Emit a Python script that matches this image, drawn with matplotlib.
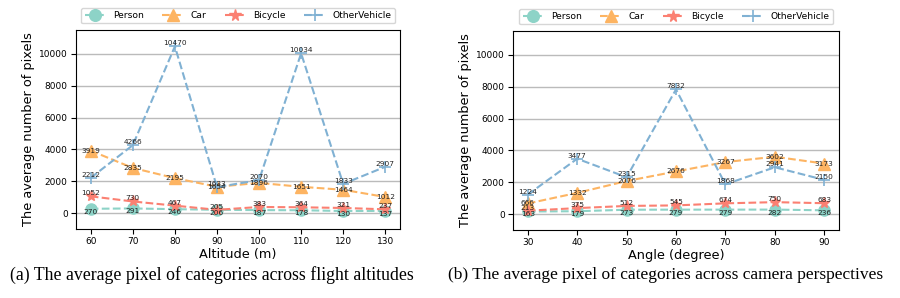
import matplotlib.pyplot as plt

altitudes = [60, 70, 80, 90, 100, 110, 120, 130]
alt_person = [270, 291, 246, 206, 187, 178, 130, 137]
alt_car = [3919, 2835, 2195, 1654, 1896, 1651, 1464, 1012]
alt_bicycle = [1052, 730, 467, 205, 383, 364, 321, 237]
alt_other = [2212, 4266, 10470, 1633, 2070, 10034, 1833, 2907]

angles = [30, 40, 50, 60, 70, 80, 90]
ang_person = [163, 179, 273, 279, 279, 282, 236]
ang_car = [666, 1332, 2076, 2676, 3267, 3602, 3173]
ang_bicycle = [213, 375, 512, 545, 674, 750, 683]
ang_other = [1224, 3477, 2315, 7832, 1868, 2941, 2150]

names = ['Person', 'Car', 'Bicycle', 'OtherVehicle']
colors = ['#8dd3c7', '#fdb462', '#fb8072', '#80b1d3']
markers = ['o', '^', '*', '+']
label_va = ['top', 'center', 'bottom', 'bottom']

fig = plt.figure(figsize=(9, 2.98), dpi=100)
ax1 = fig.add_axes([76 / 900, 1 - 229 / 298, 324 / 900, 199 / 298])
ax2 = fig.add_axes([513 / 900, 1 - 230 / 298, 326 / 900, 199 / 298])


def draw(ax, xs, series, xlabel):
    for name, ys, c, m, va in zip(names, series, colors, markers, label_va):
        ax.plot(xs, ys, linestyle='--', color=c, marker=m, markersize=8,
                markeredgewidth=1.2 if m == '+' else 1, label=name)
        for x, y in zip(xs, ys):
            ax.text(x, y, str(y), fontsize=5.3, ha='center', va=va, color='#222222')
    ax.set_ylim(-1000, 11500)
    ax.set_yticks([0, 2000, 4000, 6000, 8000, 10000])
    ax.set_xticks(xs)
    ax.yaxis.grid(True, color='#bbbbbb', linewidth=1)
    ax.set_axisbelow(True)
    ax.tick_params(labelsize=6.5, pad=2.5)
    ax.set_xlabel(xlabel, fontsize=9.3, labelpad=1)
    ax.set_ylabel('The average number of pixels', fontsize=9.3, labelpad=3)
    ax.legend(loc='lower center', bbox_to_anchor=(0.5, 1.01), ncol=4, fontsize=6.6,
              frameon=True, handlelength=2.3, columnspacing=2.0, borderpad=0.35,
              markerscale=1.05)


draw(ax1, altitudes, [alt_person, alt_car, alt_bicycle, alt_other], 'Altitude (m)')
draw(ax2, angles, [ang_person, ang_car, ang_bicycle, ang_other], 'Angle (degree)')

fig.text(212 / 900, 1 - 275 / 298, '(a) The average pixel of categories across flight altitudes',
         ha='center', va='center', family='Liberation Serif', fontsize=12.8)
fig.text(666 / 900, 1 - 275 / 298, '(b) The average pixel of categories across camera perspectives',
         ha='center', va='center', family='Liberation Serif', fontsize=12.5)

fig.savefig('out.png', dpi=100)
